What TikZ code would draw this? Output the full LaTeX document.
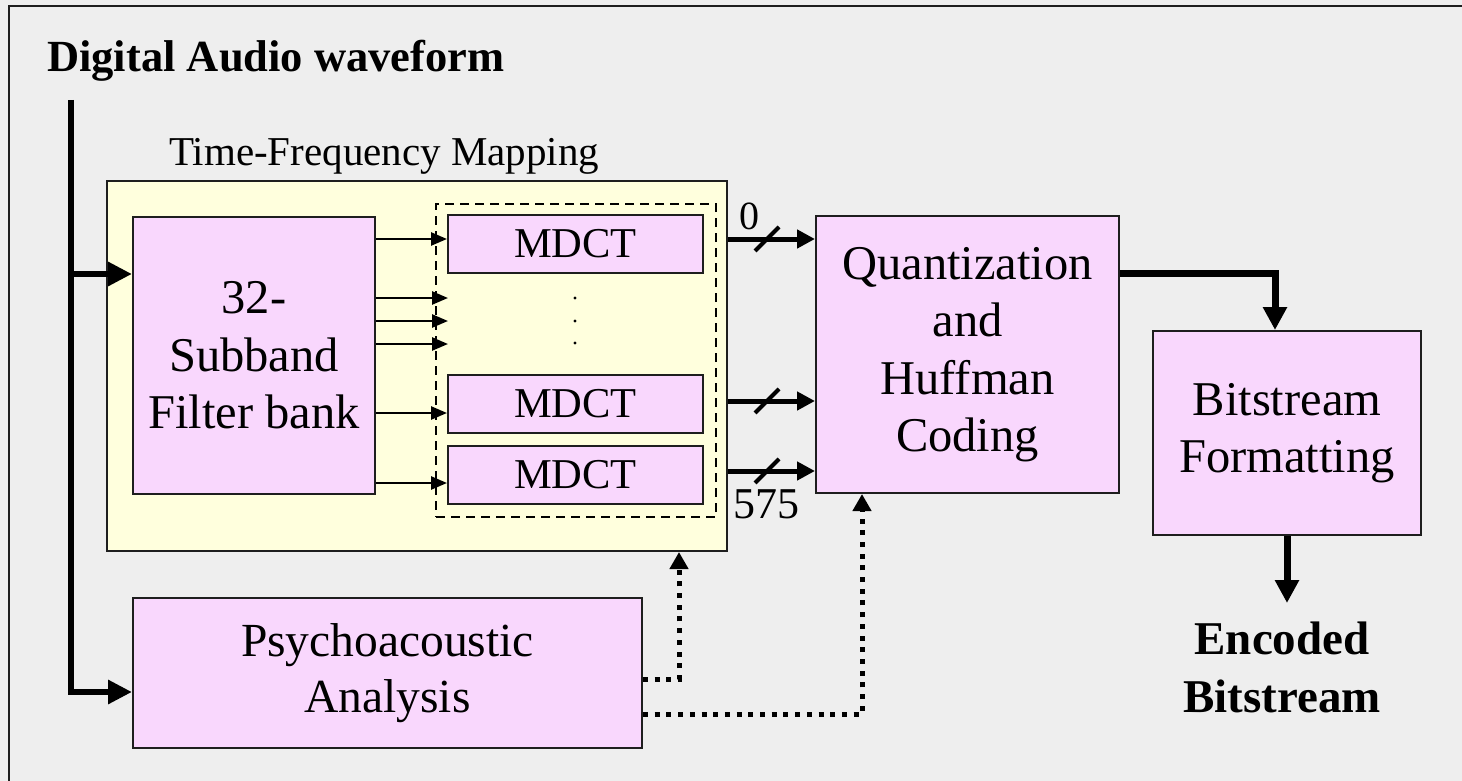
\documentclass[tikz,border=0pt]{standalone}
\usepackage{fontspec}
\setmainfont{Liberation Serif}
\usetikzlibrary{arrows.meta}
\definecolor{bg}{HTML}{EEEEEE}
\definecolor{pinkbox}{HTML}{F9D7FD}
\definecolor{yellowbox}{HTML}{FFFFDD}
\definecolor{edge}{HTML}{1E1E1E}

\tikzset{
  block/.style={draw=edge, line width=2pt, fill=pinkbox, inner sep=0pt,
    align=center, font=\fontsize{48.5}{57.5}\selectfont},
  mdctbox/.style={block, minimum width=255pt, minimum height=58pt,
    font=\fontsize{42.5}{50}\selectfont},
  thinarrow/.style={line width=2.5pt, -{Triangle[length=16pt,width=13pt]}},
  feedarrow/.style={line width=6pt, line join=miter, -{Triangle[length=24pt,width=23pt]}},
  outarrow/.style={line width=5pt, -{Triangle[length=18pt,width=18pt]}},
  bigarrow/.style={line width=7pt, line join=miter, -{Triangle[length=23pt,width=23pt]}},
  dotarrow/.style={line width=5pt, dash pattern=on 5pt off 6.7pt,
    -{Triangle[length=17pt,width=18pt]}},
  slash/.style={line width=4pt},
  label/.style={inner sep=0pt, anchor=base west}
}

\begin{document}
\begin{tikzpicture}[x=1pt,y=-1pt]
  % canvas and frame
  \fill[bg] (0,0) rectangle (1462,781);
  \useasboundingbox (0,0) rectangle (1462,781);
  \draw[edge, line width=2pt] (9,781) -- (9,6) -- (1462,6);

  % heading
  \node[label, font=\fontsize{44.5}{52}\selectfont\bfseries] (title) at (47,72) {Digital Audio waveform};

  % time-frequency mapping group
  \node[draw=edge, line width=2pt, fill=yellowbox, minimum width=620pt, minimum height=370pt,
        inner sep=0pt] (tf) at (417,366) {};
  \node[label, font=\fontsize{41}{48}\selectfont] (tflabel) at (169,165) {Time-Frequency Mapping};
  \node[draw=black, line width=1.8pt, dash pattern=on 9pt off 6pt, minimum width=280pt,
        minimum height=313pt, inner sep=0pt] (grp) at (576,360.5) {};

  \node[block, minimum width=242pt, minimum height=277pt] (fb) at (254,355.5)
        {32-\\Subband\\Filter bank};
  \node[mdctbox] (m1) at (575.5,244) {MDCT};
  \node[mdctbox] (m2) at (575.5,404) {MDCT};
  \node[mdctbox] (m3) at (575.5,474.5) {MDCT};

  % vertical ellipsis between the transforms
  \foreach \yy in {298,321,343} \fill (575,\yy) circle (1.6pt);

  % quantization, bitstream, psychoacoustic blocks
  \node[block, minimum width=303pt, minimum height=277pt] (Q) at (967.5,354.5)
        {Quantization\\and\\Huffman\\Coding};
  \node[block, minimum width=268pt, minimum height=204pt] (BF) at (1287,433)
        {Bitstream\\Formatting};
  \node[block, minimum width=509pt, minimum height=150pt,
        font=\fontsize{47.5}{56}\selectfont] (PA) at (387.5,673)
        {Psychoacoustic\\Analysis};

  \node[inner sep=0pt, align=center, font=\fontsize{47}{58}\selectfont\bfseries] (enc)
        at (1282,667) {Encoded\\Bitstream};

  % helper coordinates
  \coordinate (src) at (71,100);
  \coordinate (tapfb) at (71,274);
  \coordinate (tappa) at (71,692);
  \coordinate (t1) at (0,239);
  \coordinate (t2) at (0,413);
  \coordinate (t3) at (0,483);
  \coordinate (d1) at (448,298);
  \coordinate (d2) at (448,321);
  \coordinate (d3) at (448,344);
  \coordinate (y0) at (0,239);
  \coordinate (y1) at (0,401);
  \coordinate (y2) at (0,471);
  \coordinate (yq) at (0,273);
  \coordinate (yp1) at (0,679);
  \coordinate (yp2) at (0,714);
  \coordinate (xp1) at (679,0);
  \coordinate (xp2) at (862,0);
  \coordinate (encin) at (1287,603);

  % input distribution
  \draw[feedarrow] (src) -- (tappa) -- (tappa -| PA.west);
  \draw[feedarrow] (tapfb) -- (tapfb -| fb.west);

  % filter bank to transforms
  \draw[thinarrow] (fb.east |- t1) -- (m1.west |- t1);
  \draw[thinarrow] (fb.east |- d1) -- (d1);
  \draw[thinarrow] (fb.east |- d2) -- (d2);
  \draw[thinarrow] (fb.east |- d3) -- (d3);
  \draw[thinarrow] (fb.east |- t2) -- (m2.west |- t2);
  \draw[thinarrow] (fb.east |- t3) -- (m3.west |- t3);

  % spectral lines into quantization
  \draw[outarrow] (tf.east |- y0) -- (Q.west |- y0);
  \draw[outarrow] (tf.east |- y1) -- (Q.west |- y1);
  \draw[outarrow] (tf.east |- y2) -- (Q.west |- y2);
  \draw[slash] (755,251) -- ++(24,-24);
  \draw[slash] (755,413) -- ++(24,-24);
  \draw[slash] (755,483) -- ++(24,-24);
  \node[label, font=\fontsize{40}{46}\selectfont] (n0) at (739,229) {0};
  \node[label, font=\fontsize{44}{50}\selectfont] (n575) at (733,518) {575};

  % quantization to formatting to output
  \draw[bigarrow] (Q.east |- yq) -| ([xshift=-12pt]BF.north);
  \draw[bigarrow] (BF.south) -- (encin);

  % psychoacoustic control paths
  \draw[dotarrow] (PA.east |- yp1) -| (tf.south -| xp1);
  \draw[dotarrow] (PA.east |- yp2) -| (Q.south -| xp2);
\end{tikzpicture}
\end{document}
